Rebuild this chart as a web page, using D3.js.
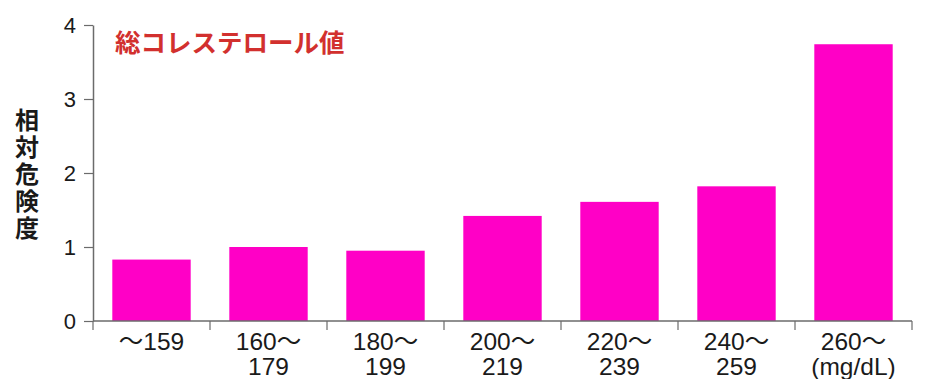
<!DOCTYPE html>
<html lang="ja">
<head>
<meta charset="utf-8">
<script src="https://cdn.jsdelivr.net/npm/d3@7/dist/d3.min.js"></script>
<style>
  html, body { margin: 0; padding: 0; background: #fff; }
  svg { display: block; }
  text { font-family: "Liberation Sans", Arial, "Noto Sans CJK JP", sans-serif; }
</style>
</head>
<body>
<svg id="chart" width="940" height="379"></svg>
<script>
// Total cholesterol bands (mg/dL), two-line labels
const categories = ["~159", "160~179", "180~199", "200~219", "220~239", "240~259", "260~"];
const labelLine1 = ["〜159", "160〜", "180〜", "200〜", "220〜", "240〜", "260〜"];
const labelLine2 = ["", "179", "199", "219", "239", "259", "(mg/dL)"];
// Relative risk for each band
const relativeRisk = [0.83, 1.0, 0.95, 1.42, 1.61, 1.82, 3.74];
const yTicks = [0, 1, 2, 3, 4];
const titleText = "総コレステロール値";
const yLabelText = "相対危険度";

const svg = d3.select("#chart");
const axisColor = "#6b6b6b";
const barColor = "#ff00c6";

const x = d3.scaleBand()
  .domain(categories)
  .range([93, 912])
  .paddingInner(0.33)
  .paddingOuter(0.165);

const y = d3.scaleLinear()
  .domain([0, 4])
  .range([321, 25]);

// Bars
svg.append("g")
  .selectAll("rect")
  .data(relativeRisk)
  .join("rect")
  .attr("x", (d, i) => x(categories[i]))
  .attr("y", d => y(d))
  .attr("width", x.bandwidth())
  .attr("height", d => y(0) - y(d))
  .attr("fill", barColor);

// Y axis
const yAxis = svg.append("g")
  .attr("transform", `translate(${x.range()[0]},0)`)
  .call(d3.axisLeft(y).tickValues(yTicks).tickFormat(d3.format("d")).tickSize(9).tickSizeOuter(0).tickPadding(8));
yAxis.select(".domain").attr("stroke", axisColor).attr("stroke-width", 1.5);
yAxis.selectAll(".tick line").attr("stroke", axisColor).attr("stroke-width", 1.2);
yAxis.selectAll(".tick text")
  .attr("fill", "#1a1a1a")
  .style("font-size", "22px")
  .attr("dy", "0.36em");

// X axis: baseline with ticks at the band boundaries
const xAxis = svg.append("g");
const [x0, x1] = x.range();
xAxis.append("line")
  .attr("x1", x0).attr("x2", x1)
  .attr("y1", y(0)).attr("y2", y(0))
  .attr("stroke", axisColor).attr("stroke-width", 1.5);
const boundaries = d3.range(categories.length + 1).map(k => x0 + k * x.step());
xAxis.selectAll("line.tick")
  .data(boundaries)
  .join("line")
  .attr("class", "tick")
  .attr("x1", d => d).attr("x2", d => d)
  .attr("y1", y(0)).attr("y2", y(0) + 9)
  .attr("stroke", axisColor).attr("stroke-width", 1.2);

const labels = xAxis.selectAll("text.cat")
  .data(categories)
  .join("text")
  .attr("class", "cat")
  .attr("text-anchor", "middle")
  .attr("fill", "#1a1a1a")
  .style("font-size", "24.5px");
labels.append("tspan")
  .attr("x", d => x(d) + x.bandwidth() / 2)
  .attr("y", 350)
  .text((d, i) => labelLine1[i]);
labels.append("tspan")
  .attr("x", d => x(d) + x.bandwidth() / 2)
  .attr("y", 375)
  .text((d, i) => labelLine2[i]);

// Chart title inside the plot
svg.append("text")
  .attr("x", 115)
  .attr("y", 52)
  .attr("fill", "#d2302e")
  .style("font-family", "'Noto Sans CJK JP', sans-serif")
  .style("font-size", "25.5px")
  .style("font-weight", "bold")
  .text(titleText);

// Vertical y-axis label, set top-to-bottom
svg.append("text")
  .attr("x", 27)
  .attr("y", 108)
  .attr("fill", "#1a1a1a")
  .style("writing-mode", "vertical-rl")
  .style("text-orientation", "upright")
  .style("font-family", "'Noto Sans CJK JP', sans-serif")
  .style("font-size", "24px")
  .style("font-weight", "bold")
  .style("letter-spacing", "3px")
  .text(yLabelText);
</script>
</body>
</html>
